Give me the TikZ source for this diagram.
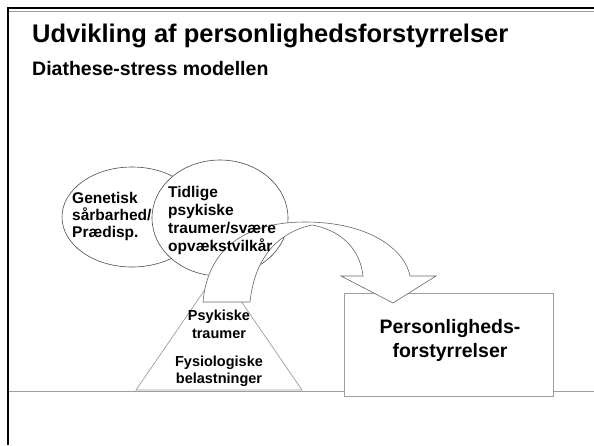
\documentclass[tikz,border=0pt]{standalone}
\usepackage{fontspec}
\setmainfont{Liberation Sans}
\usetikzlibrary{shapes.geometric}
\definecolor{rulegray}{gray}{0.62}
\definecolor{inkgray}{gray}{0.3}
\definecolor{arrowgray}{gray}{0.4}
\begin{document}
\begin{tikzpicture}[x=1pt,y=-1pt,
  ttl/.style={inner sep=0pt, anchor=base west, font=\bfseries\fontsize{25.5}{28}\selectfont},
  subttl/.style={inner sep=0pt, anchor=base west, font=\bfseries\fontsize{19.5}{22}\selectfont},
  bubtxt/.style={inner sep=0pt, anchor=base west, font=\bfseries\fontsize{15.5}{17}\selectfont},
  tritxt/.style={inner sep=0pt, anchor=base, font=\bfseries\fontsize{14.5}{16}\selectfont},
  boxtxt/.style={inner sep=0pt, anchor=base, font=\bfseries\fontsize{19.5}{22}\selectfont},
  bubble/.style={ellipse, draw=inkgray, line width=0.6pt, inner sep=0pt},
  thinrule/.style={rulegray, line width=0.8pt}]
\useasboundingbox (0,0) rectangle (594,445);
\fill[white] (0,0) rectangle (594,445);

% slide frame
\draw[line width=1.8pt] (8,445) -- (8,8) -- (594,8);
\draw[thinrule] (9,11) -- (594,11);
\draw[thinrule] (9,391) -- (594,391);

% titles
\node[ttl] (title) at (32,42) {Udvikling af personlighedsforstyrrelser};
\node[subttl] (subtitle) at (32,75) {Diathese-stress modellen};

% stress pyramid
\coordinate (trl) at (136,390);
\coordinate (trt) at (219,269);
\coordinate (trr) at (302,390);
\draw[rulegray, line width=0.7pt, fill=white] (trl) -- (trt) -- (trr) -- cycle;

% outcome box
\node[draw=rulegray, fill=white, line width=0.8pt, minimum width=209pt, minimum height=103pt, inner sep=0pt] (outcome) at (448.5,344.5) {};

% vulnerability bubbles
\node[bubble, minimum width=140pt, minimum height=100pt] (gen) at (132,217) {};
\node[bubble, fill=white, minimum width=136pt, minimum height=116pt] (early) at (220,218) {};

% curved block arrow
\draw[arrowgray, line width=0.6pt, fill=white]
  (203,302) .. controls (208,245) and (250,222) .. (305,222)
  .. controls (370,222) and (405,250) .. (410,276)
  -- (436,276) -- (393,303) -- (341,276) -- (363,276)
  .. controls (360,248) and (340,230) .. (312,225)
  .. controls (280,232) and (255,255) .. (250,302) -- cycle;

% bubble texts
\node[bubtxt] (g1) at (72,203) {Genetisk};
\node[bubtxt] (g2) at (72,220) {sårbarhed/};
\node[bubtxt] (g3) at (72,237) {Prædisp.};
\node[bubtxt] (e1) at (168,197) {Tidlige};
\node[bubtxt] (e2) at (168,215) {psykiske};
\node[bubtxt] (e3) at (168,233) {traumer/svære};
\node[bubtxt] (e4) at (168,251.5) {opvækstvilkår};

% pyramid texts
\node[tritxt] (p1) at (219,320.5) {Psykiske};
\node[tritxt] (p2) at (219,338) {traumer};
\node[tritxt] (p3) at (219,366) {Fysiologiske};
\node[tritxt] (p4) at (219,383) {belastninger};

% box texts
\node[boxtxt] (o1) at (450,333.5) {Personligheds-};
\node[boxtxt] (o2) at (450,357.5) {forstyrrelser};
\end{tikzpicture}
\end{document}
